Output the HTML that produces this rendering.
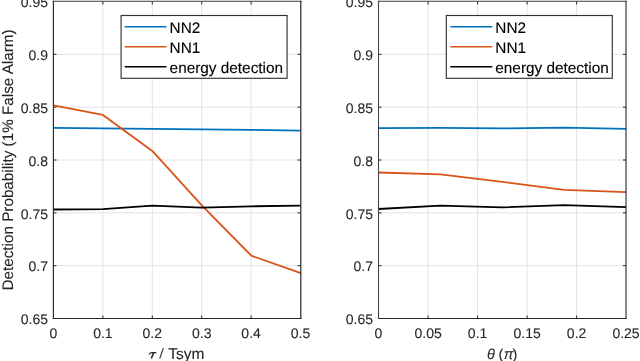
<!DOCTYPE html>
<html><head><meta charset="utf-8">
<style>
html,body{margin:0;padding:0;background:#fff;width:640px;height:361px;overflow:hidden}
svg{display:block;will-change:transform}
text{font-family:"Liberation Sans",sans-serif;fill:#262626;stroke:#262626;stroke-width:0.1px;text-rendering:geometricPrecision}
.tk{font-size:14px}
.tk text{stroke-width:0.1px}
.th text{stroke-width:0.1px}
.lg text{fill:#000;stroke:#000;stroke-width:0.12px}
.lg{font-size:15.35px;fill:#000;stroke:#000}
</style></head><body>
<svg width="640" height="361" viewBox="0 0 640 361">
<rect width="640" height="361" fill="#fff"/>
<!-- LEFT AXES -->
<g id="L">
<g stroke="#e3e3e3" stroke-width="1" fill="none">
<path d="M102.9 1.5V318.5M152.3 1.5V318.5M201.7 1.5V318.5M251.1 1.5V318.5"/>
<path d="M53.5 54.33H300.5M53.5 107.17H300.5M53.5 160H300.5M53.5 212.83H300.5M53.5 265.67H300.5"/>
</g>
<g stroke="#262626" stroke-width="1" fill="none">
<path d="M102.9 318.5v-3M152.3 318.5v-3M201.7 318.5v-3M251.1 318.5v-3M102.9 1.5v3M152.3 1.5v3M201.7 1.5v3M251.1 1.5v3"/>
<path d="M53.5 54.33h3M53.5 107.17h3M53.5 160h3M53.5 212.83h3M53.5 265.67h3M300.5 54.33h-3M300.5 107.17h-3M300.5 160h-3M300.5 212.83h-3M300.5 265.67h-3"/>
</g>
<g fill="none" stroke-linejoin="round" stroke-linecap="butt" stroke-width="1.8">
<polyline stroke="#0072BD" points="53.5,127.95 102.9,128.4 152.3,128.9 201.8,129.3 251.3,129.9 300.8,130.6"/>
<polyline stroke="#D95319" points="53.5,105.3 102.9,114.9 152.3,150.9 201.8,205.3 251.3,255.7 300.8,273.2"/>
<polyline stroke="#000" points="53.5,209.5 102.9,209.1 152.3,205.7 201.8,207.7 251.3,206.3 300.8,205.6"/>
</g>
<g fill="none" stroke="#262626">
<path d="M52.8 1.2H301.4" stroke-width="1.1" stroke="#3c3c3c"/>
<path d="M52.8 318.5H301.4" stroke-width="1"/>
<path d="M53.4 0.7V319" stroke-width="1.15"/>
<path d="M300.8 0.7V319" stroke-width="1.2"/>
</g>
<g class="tk" text-anchor="end">
<text x="48" y="6.7">0.95</text>
<text x="48" y="60">0.9</text>
<text x="48" y="112.9">0.85</text>
<text x="48" y="165.7">0.8</text>
<text x="48" y="218.5">0.75</text>
<text x="48" y="271.4">0.7</text>
<text x="48" y="324.2">0.65</text>
</g>
<g class="tk" text-anchor="middle">
<text x="53.5" y="338">0</text>
<text x="102.9" y="338">0.1</text>
<text x="152.3" y="338">0.2</text>
<text x="201.7" y="338">0.3</text>
<text x="251.1" y="338">0.4</text>
<text x="300.5" y="338">0.5</text>
</g>
<text transform="translate(13,160) rotate(-90)" text-anchor="middle" style="font-size:15.25px">Detection Probability (1% False Alarm)</text>
<path d="M149.2 354.3C149.9 353.1 150.8 352.6 152 352.6H156.3" fill="none" stroke="#262626" stroke-width="1.3"/>
<path d="M153.7 352.8L151.3 358.4" fill="none" stroke="#262626" stroke-width="1.6"/>
<path d="M163.3 348.2L159.7 358.6" fill="none" stroke="#333" stroke-width="1.15"/>
<text x="168.2" y="358.7" style="font-size:15.5px">Tsym</text>
<rect x="121.1" y="15.5" width="166" height="62.8" fill="#fff" stroke="#333" stroke-width="1.15"/>
<g stroke-width="1.6">
<path d="M124.7 26.7H166.5" stroke="#0072BD"/>
<path d="M124.7 46.7H166.5" stroke="#D95319"/>
<path d="M124.7 66.7H166.5" stroke="#000"/>
</g>
<g class="lg">
<text x="169.6" y="33">NN2</text>
<text x="169.6" y="52.8">NN1</text>
<text x="169.6" y="72.6">energy detection</text>
</g>
</g>
<!-- RIGHT AXES -->
<g id="R">
<g stroke="#e3e3e3" stroke-width="1" fill="none">
<path d="M428.1 1.5V318.5M477.6 1.5V318.5M527.1 1.5V318.5M576.6 1.5V318.5"/>
<path d="M378.5 54.33H626M378.5 107.17H626M378.5 160H626M378.5 212.83H626M378.5 265.67H626"/>
</g>
<g stroke="#262626" stroke-width="1" fill="none">
<path d="M428.1 318.5v-3M477.6 318.5v-3M527.1 318.5v-3M576.6 318.5v-3M428.1 1.5v3M477.6 1.5v3M527.1 1.5v3M576.6 1.5v3"/>
<path d="M378.5 54.33h3M378.5 107.17h3M378.5 160h3M378.5 212.83h3M378.5 265.67h3M626 54.33h-3M626 107.17h-3M626 160h-3M626 212.83h-3M626 265.67h-3"/>
</g>
<g fill="none" stroke-linejoin="round" stroke-linecap="butt" stroke-width="1.8">
<polyline stroke="#0072BD" points="378.5,128.2 440.4,127.8 502.25,128.4 564.1,127.7 626,128.8"/>
<polyline stroke="#D95319" points="378.5,172.5 440.4,174.4 502.25,181.9 564.1,189.9 626,192.2"/>
<polyline stroke="#000" points="378.5,209.0 440.4,205.6 502.25,207.4 564.1,205.1 626,207.1"/>
</g>
<g fill="none" stroke="#262626">
<path d="M378 1.2H626.6" stroke-width="1.1" stroke="#3c3c3c"/>
<path d="M378 318.5H626.6" stroke-width="1"/>
<path d="M378.5 0.7V319" stroke-width="1.1" stroke="#444"/>
<path d="M626 0.7V319" stroke-width="1.1"/>
</g>
<g class="tk" text-anchor="end">
<text x="373" y="6.7">0.95</text>
<text x="373" y="60">0.9</text>
<text x="373" y="112.9">0.85</text>
<text x="373" y="165.7">0.8</text>
<text x="373" y="218.5">0.75</text>
<text x="373" y="271.4">0.7</text>
<text x="373" y="324.2">0.65</text>
</g>
<g class="tk" text-anchor="middle">
<text x="378.5" y="338">0</text>
<text x="428.1" y="338">0.05</text>
<text x="477.6" y="338">0.1</text>
<text x="527.1" y="338">0.15</text>
<text x="576.6" y="338">0.2</text>
<text x="626" y="338">0.25</text>
</g>
<g class="th" style="font-size:14.5px;font-family:'Liberation Serif',serif;font-style:italic">
<text x="487.1" y="359">θ</text><text x="498.6" y="359" style="font-style:normal">(</text><text x="503.8" y="359">π</text><text x="512.4" y="359" style="font-style:normal">)</text>
</g>
<rect x="446.3" y="15.5" width="166" height="62.8" fill="#fff" stroke="#333" stroke-width="1.15"/>
<g stroke-width="1.6">
<path d="M450.3 26.8H492.3" stroke="#0072BD"/>
<path d="M450.3 46.8H492.3" stroke="#D95319"/>
<path d="M450.3 66.7H492.3" stroke="#000"/>
</g>
<g class="lg">
<text x="495.3" y="33">NN2</text>
<text x="495.3" y="52.8">NN1</text>
<text x="495.3" y="72.6">energy detection</text>
</g>
</g>
</svg>
</body></html>
